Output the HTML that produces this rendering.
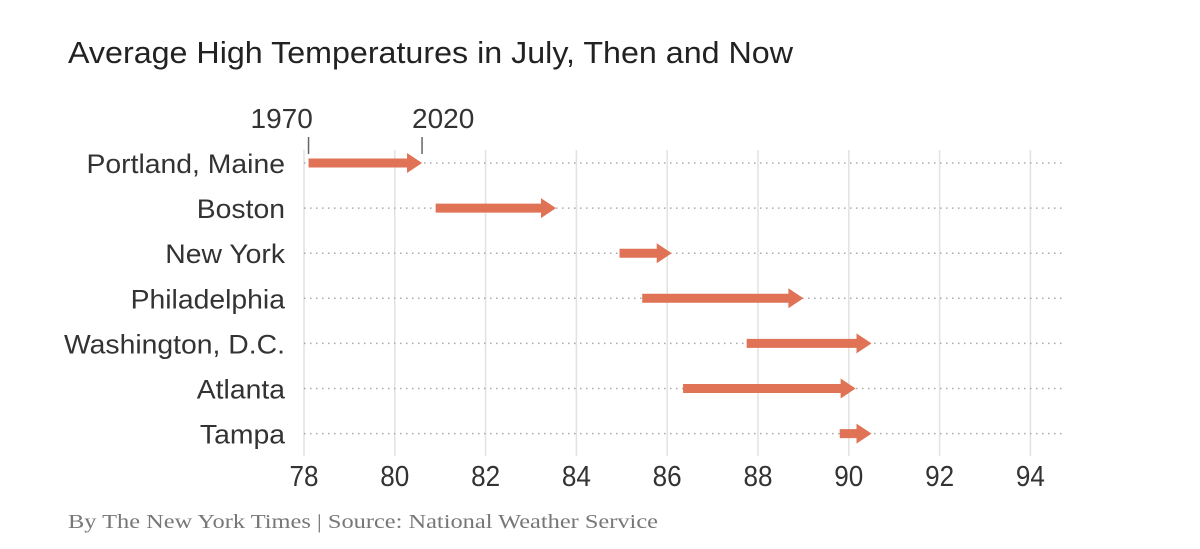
<!DOCTYPE html>
<html><head><meta charset="utf-8"><style>
body{margin:0;background:#fff;width:1200px;height:544px;overflow:hidden}
svg text{font-family:"Liberation Sans",sans-serif}
</style></head><body>
<svg width="1200" height="544">
<text x="68" y="63" font-size="31" fill="#222" textLength="725" lengthAdjust="spacingAndGlyphs">Average High Temperatures in July, Then and Now</text>
<g id="grid"></g><g id="rows"></g><g id="marks"></g>
<text x="68" y="528" font-size="20" fill="#777" textLength="590" lengthAdjust="spacingAndGlyphs" style="font-family:'Liberation Serif',serif">By The New York Times | Source: National Weather Service</text>
</svg>
<script>
const cities=["Portland, Maine","Boston","New York","Philadelphia","Washington, D.C.","Atlanta","Tampa"];
const then=[78.1,80.9,84.95,85.45,87.75,86.35,89.8];
const now=[80.6,83.55,86.1,89.0,90.5,90.15,90.5];
const ticks=[78,80,82,84,86,88,90,92,94];
const NS="http://www.w3.org/2000/svg";
const x=v=>304+(v-78)*45.4;
const y=i=>163+i*45.1;
function mk(p,t,a){const e=document.createElementNS(NS,t);for(const k in a)e.setAttribute(k,a[k]);p.appendChild(e);return e;}
const G=document.getElementById('grid'),R=document.getElementById('rows'),M=document.getElementById('marks');
ticks.forEach(t=>{
const l=mk(G,'line',{x1:x(t),x2:x(t),y1:150,y2:456,stroke:'#e2e2e2','stroke-width':1.5});


const tx=mk(G,'text',{x:x(t),y:486,'font-size':29,fill:'#333','text-anchor':'middle',transform:`translate(${x(t)},0) scale(0.9,1) translate(${-x(t)},0)`});tx.textContent=t;


});
cities.forEach((c,i)=>{
const l=mk(R,'line',{x1:304,x2:1063,y1:y(i),y2:y(i),stroke:'#aaa','stroke-width':1.5,'stroke-dasharray':'1.5 4.5'});


const t=mk(R,'text',{x:285,y:y(i)+10,'font-size':27,fill:'#333','text-anchor':'end',transform:'translate(285,0) scale(1.05,1) translate(-285,0)'});t.textContent=c;


const x0=x(then[i]),x1=x(now[i]),yy=y(i);
const p=mk(M,'path',{d:`M${x0},${yy-4.5}L${x1-15},${yy-4.5}L${x1-15},${yy-10}L${x1},${yy}L${x1-15},${yy+10}L${x1-15},${yy+4.5}L${x0},${yy+4.5}Z`,fill:'#e07256'});


});
[[then[0],'1970'],[now[0],'2020']].forEach(([v,s])=>{
const l=mk(M,'line',{x1:x(v),x2:x(v),y1:137,y2:154,stroke:'#666','stroke-width':1.5});


const t=mk(M,'text',{x:x(v)+(s==='1970'?-58:-10),y:128,'font-size':28,fill:'#333'});t.textContent=s;


});
</script>
</body></html>
